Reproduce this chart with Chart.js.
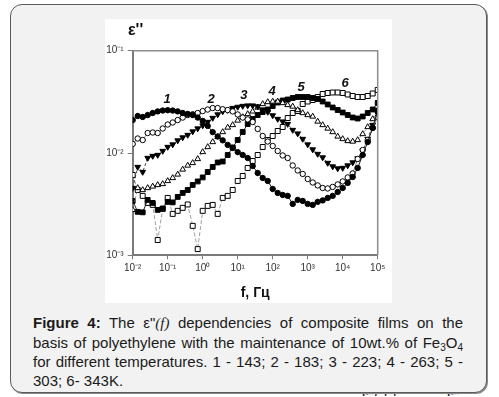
<!DOCTYPE html>
<html><head><meta charset="utf-8">
<script src="https://cdn.jsdelivr.net/npm/chart.js@4/dist/chart.umd.min.js"></script>
<style>
html,body{margin:0;padding:0;background:#fff;width:499px;height:397px;overflow:hidden;font-family:"Liberation Sans",Arial,sans-serif;}
#box{position:absolute;left:10px;top:4px;width:475px;height:387px;border:1px solid #5a5a5a;border-radius:12px;background:#f2f2f2;box-shadow:1px 1px 0 #8a8a8a;z-index:1}
#panel{position:absolute;left:105px;top:19px;width:287px;height:284px;background:#fff;z-index:2}
#eps{position:absolute;left:128px;top:22px;font:bold 16px "Liberation Sans",Arial,sans-serif;line-height:16px;color:#111;z-index:3}
#cap{position:absolute;left:33px;top:312.5px;width:430px;font-size:15px;line-height:19.2px;color:#1a1a1a;z-index:3}
#cap .j{text-align:justify;text-align-last:justify}
#cap sub{font-size:10px;vertical-align:-3px;line-height:0}
.ser{font-family:"Liberation Serif","Times New Roman",serif;font-style:italic}
#cut{position:absolute;left:0;top:390px;width:499px;height:6px;overflow:hidden;z-index:0}
#cut span{position:absolute;top:-2px;font-size:15px;line-height:15px;color:#222}
</style></head>
<body>
<div id="box"></div>
<div id="panel"><canvas id="c" width="287" height="284"></canvas></div>
<div id="eps">ε''</div>
<div id="cap">
<div class="j"><b>Figure 4:</b> The ε"<span class="ser">(f)</span> dependencies of composite films on the</div>
<div class="j">basis of polyethylene with the maintenance of 10wt.% of Fe<sub>3</sub>O<sub>4</sub></div>
<div class="j">for different temperatures. 1 - 143; 2 - 183; 3 - 223; 4 - 263; 5 -</div>
<div>303; 6- 343K.</div>
</div>
<div id="cut"><span style="left:362px">ε"( <i>f</i> )</span><span style="left:447px">ε"</span></div>
<script>
// frequency, Hz
const freq = [0.01,0.0139,0.0193,0.0268,0.0373,0.0518,0.072,
  0.1,0.139,0.193,0.268,0.373,0.518,0.72,
  1,1.39,1.93,2.68,3.73,5.18,7.2,
  10,13.9,19.3,26.8,37.3,51.8,72,
  100,139,193,268,373,518,720,
  1000,1390,1930,2680,3730,5180,7200,
  10000,13900,19300,26800,37300,51800,72000,
  100000];
// ε'' for 143 K
const eps1 = [0.0210,0.0230,0.0225,0.0235,0.0246,0.0255,0.0260,0.0262,0.0260,0.0255,0.0246,0.0241,0.0235,0.0222,
  0.0206,0.0184,0.0160,0.0145,0.0133,0.0120,0.0112,0.0102,0.00956,0.00894,0.00747,0.00638,0.00570,0.00533,
  0.00445,0.00407,0.00389,0.00381,0.00318,0.00348,0.00340,0.00318,0.00311,0.00333,0.00344,0.00364,0.00381,
  0.00416,0.00455,0.00510,0.00583,0.00714,0.00956,0.0128,0.0176,0.0252];
// 183 K
const eps2 = [0.01225,0.01386,0.0134,0.01568,0.01586,0.01568,0.01735,0.01899,0.01986,0.0210,0.0222,0.0235,0.0239,0.0246,
  0.0257,0.0266,0.0275,0.0275,0.0268,0.0263,0.0255,0.0238,0.0222,0.0213,0.0201,0.0172,0.01466,0.01295,
  0.01171,0.01046,0.00946,0.00894,0.00755,0.00675,0.00624,0.00557,0.00515,0.00482,0.00455,0.0045,0.00466,
  0.00493,0.00527,0.00577,0.00631,0.00874,0.0107,0.0134,0.01755,0.0225];
// 223 K
const eps3 = [0.00455,0.0073,0.00652,0.00894,0.00935,0.00956,0.01046,0.01145,0.01211,0.01325,0.01418,0.0150,0.01622,0.01735,
  0.01857,0.0201,0.0220,0.0238,0.0255,0.0263,0.0275,0.0282,0.0288,0.0291,0.0291,0.0285,0.0266,0.0252,
  0.0233,0.0215,0.0203,0.0192,0.01678,0.0155,0.01371,0.01211,0.01082,0.00978,0.00904,0.00799,0.00738,
  0.00706,0.00714,0.00755,0.00808,0.00884,0.01046,0.01371,0.01878,0.0263];
// 263 K
const eps4 = [0.00278,0.00455,0.00435,0.00455,0.00471,0.00487,0.00498,0.00533,0.0057,0.00617,0.0069,0.00755,0.00799,0.00874,
  0.01023,0.01145,0.01281,0.01434,0.01604,0.01775,0.01878,0.02078,0.02248,0.02406,0.0255,0.02785,0.03013,0.03151,
  0.03187,0.03187,0.03082,0.02946,0.02848,0.02633,0.0246,0.02352,0.02274,0.02032,0.01878,0.01735,0.01604,
  0.0145,0.01371,0.0131,0.01295,0.0134,0.01533,0.01795,0.02149,0.02633];
// 303 K
const eps5 = [0.0034,0.00266,0.00263,0.00348,0.00325,0.00278,0.00287,0.00333,0.00329,0.00372,0.00407,0.00435,0.00487,0.00527,
  0.00577,0.00652,0.0073,0.00808,0.00826,0.00956,0.01132,0.0134,0.01604,0.0192,0.02149,0.02352,0.02517,0.02663,
  0.0288,0.03116,0.0326,0.03334,0.03449,0.03527,0.03527,0.03527,0.03449,0.03372,0.03187,0.0298,0.02785,
  0.02633,0.02488,0.02352,0.02223,0.02173,0.02274,0.0246,0.02663,0.03082];
// 343 K
const eps6 = [0.0061,0.00435,0.00381,0.00325,0.00311,0.00141,0.00284,0.00364,0.00254,0.00272,0.00291,0.00314,0.00194,0.00115,
  0.00272,0.00304,0.00311,0.00254,0.00364,0.00381,0.00435,0.00533,0.00596,0.00714,0.00835,0.00956,0.01145,0.0134,
  0.01466,0.01641,0.01795,0.02198,0.0246,0.02574,0.03013,0.03187,0.03297,0.03527,0.03774,0.0386,0.03904,
  0.03904,0.0386,0.03732,0.03608,0.03527,0.03527,0.03608,0.03817,0.0413];

const xTicks = [0.01,0.1,1,10,100,1000,10000,100000];
const yTicks = [0.001,0.01,0.1];
const curveNames = ['1','2','3','4','5','6'];
const curveNameF = [0.0955,1.726,15.1,95.5,646,11750];
const curveNameE = [0.0337,0.0337,0.0369,0.0404,0.0442,0.0483];

const SUP = {'-':'\u207B','0':'\u2070','1':'\u00B9','2':'\u00B2','3':'\u00B3','4':'\u2074','5':'\u2075'};
function pow10Label(v){
  const e = String(Math.round(Math.log10(v)));
  return '10' + e.split('').map(ch => SUP[ch]).join('');
}
const pts = arr => freq.map((f,i)=>({x:f,y:arr[i]}));

const styles = [
  {data:eps1, pointStyle:'circle', r:2.7, fill:'#000', line:'#222', lw:1, dash:[]},
  {data:eps2, pointStyle:'circle', r:2.7, fill:'#fff', line:'#666', lw:0.8, dash:[]},
  {data:eps3, pointStyle:'triangle', r:3.3, fill:'#000', line:'#333', lw:0.9, dash:[3,2], rot:180},
  {data:eps4, pointStyle:'triangle', r:3.3, fill:'#fff', line:'#777', lw:0.8, dash:[2,2]},
  {data:eps5, pointStyle:'rect', r:3.4, fill:'#000', line:'#222', lw:1, dash:[]},
  {data:eps6, pointStyle:'rect', r:3.5, fill:'#fff', line:'#888', lw:0.8, dash:[4,2]}
];

const frame = {
  id:'frame',
  afterDatasetsDraw(chart){
    const {ctx, chartArea:a} = chart;
    ctx.save();
    ctx.strokeStyle = '#8c8c8c'; ctx.lineWidth = 1.5;
    ctx.beginPath();
    ctx.moveTo(a.left, a.top); ctx.lineTo(a.right, a.top); ctx.lineTo(a.right, a.bottom);
    ctx.stroke();
    ctx.font = 'italic bold 13px "Liberation Sans", Arial, sans-serif';
    ctx.fillStyle = '#111'; ctx.textAlign = 'center'; ctx.textBaseline = 'middle';
    const xs = chart.scales.x, ys = chart.scales.y;
    curveNames.forEach((t,i)=>{
      ctx.fillText(t, xs.getPixelForValue(curveNameF[i]), ys.getPixelForValue(curveNameE[i]));
    });
    ctx.restore();
  }
};

new Chart(document.getElementById('c'), {
  type:'scatter',
  data:{datasets: styles.map(s=>({
    data: pts(s.data), showLine:true, tension:0,
    borderColor:s.line, borderWidth:s.lw, borderDash:s.dash,
    pointStyle:s.pointStyle, pointRadius:s.r, pointRotation:s.rot||0,
    pointBackgroundColor:s.fill, pointBorderColor:'#000', pointBorderWidth:1,
    pointHoverRadius:s.r
  }))},
  options:{
    responsive:false, animation:false, devicePixelRatio:1,
    layout:{padding:{left:0,right:14.3,top:31.7,bottom:0}},
    plugins:{legend:{display:false}, tooltip:{enabled:false}},
    scales:{
      x:{type:'logarithmic', min:0.01, max:100000,
        afterBuildTicks: sc => { sc.ticks = xTicks.map(v=>({value:v})); },
        afterFit: sc => { sc.height = 47.7; },
        ticks:{callback: v => pow10Label(v), autoSkip:false, maxRotation:0, padding:3,
          font:{size:10, family:'"Liberation Sans", Arial, sans-serif'}, color:'#333'},
        grid:{drawOnChartArea:false, drawTicks:true, tickLength:4, color:'#7a7a7a', lineWidth:1},
        border:{display:true, color:'#7a7a7a', width:2},
        title:{display:true, text:'f, Гц', color:'#111',
          font:{size:14, weight:'bold', family:'"Liberation Sans", Arial, sans-serif'}, padding:{top:0,bottom:1}}
      },
      y:{type:'logarithmic', min:0.001, max:0.1,
        afterBuildTicks: sc => { sc.ticks = yTicks.map(v=>({value:v})); },
        afterFit: sc => { sc.width = 27.7; },
        ticks:{callback: v => pow10Label(v), autoSkip:false, padding:4,
          font:{size:10, family:'"Liberation Sans", Arial, sans-serif'}, color:'#333'},
        grid:{drawOnChartArea:false, drawTicks:true, tickLength:5, color:'#7a7a7a', lineWidth:1},
        border:{display:true, color:'#7a7a7a', width:2}
      }
    }
  },
  plugins:[frame]
});
</script>
</body></html>
